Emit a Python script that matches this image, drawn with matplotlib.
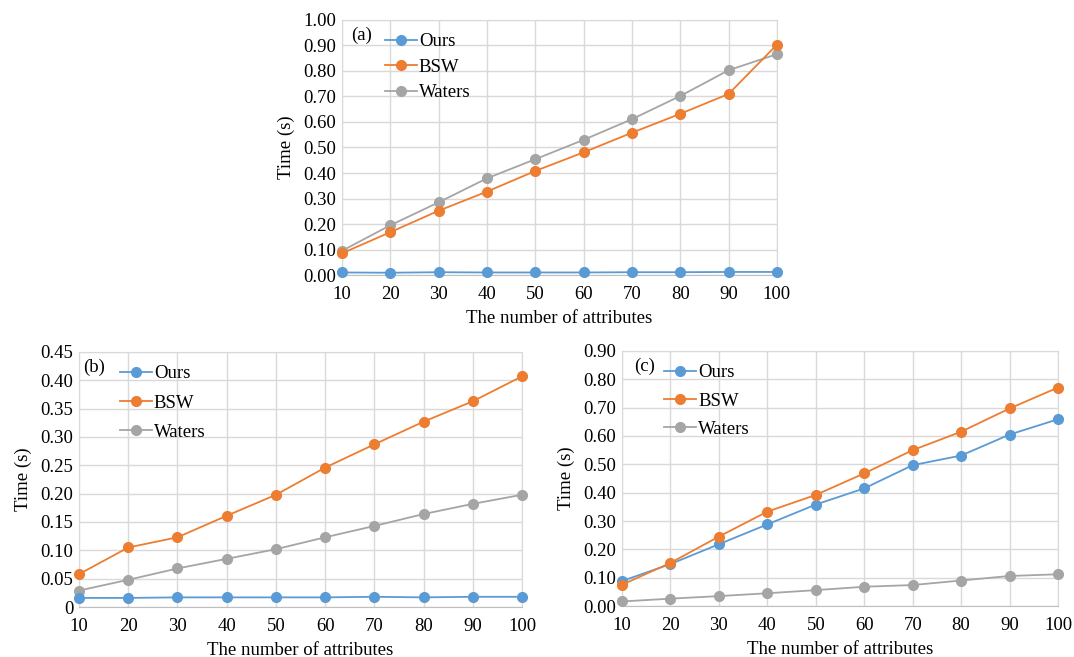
import numpy as np
import matplotlib.pyplot as plt

plt.rcParams['font.family'] = ['Liberation Serif', 'DejaVu Serif']

attrs = [10, 20, 30, 40, 50, 60, 70, 80, 90, 100]

# (a)
a_ours = [0.010, 0.009, 0.011, 0.010, 0.010, 0.010, 0.011, 0.011, 0.012, 0.012]
a_bsw = [0.085, 0.168, 0.252, 0.327, 0.408, 0.481, 0.558, 0.632, 0.710, 0.903]
a_waters = [0.095, 0.195, 0.285, 0.379, 0.454, 0.530, 0.611, 0.702, 0.803, 0.866]
a_yticks = [0.0, 0.1, 0.2, 0.3, 0.4, 0.5, 0.6, 0.7, 0.8, 0.9, 1.0]
a_ylabels = ["0.00", "0.10", "0.20", "0.30", "0.40", "0.50", "0.60", "0.70", "0.80", "0.90", "1.00"]

# (b)
b_ours = [0.016, 0.016, 0.017, 0.017, 0.017, 0.017, 0.018, 0.017, 0.018, 0.018]
b_bsw = [0.058, 0.105, 0.123, 0.161, 0.198, 0.246, 0.287, 0.327, 0.363, 0.407]
b_waters = [0.029, 0.048, 0.068, 0.085, 0.102, 0.123, 0.143, 0.164, 0.182, 0.198]
b_yticks = [0.0, 0.05, 0.10, 0.15, 0.20, 0.25, 0.30, 0.35, 0.40, 0.45]
b_ylabels = ["0", "0.05", "0.10", "0.15", "0.20", "0.25", "0.30", "0.35", "0.40", "0.45"]

# (c)
c_ours = [0.088, 0.148, 0.218, 0.288, 0.358, 0.415, 0.497, 0.531, 0.605, 0.659]
c_bsw = [0.075, 0.152, 0.245, 0.333, 0.392, 0.468, 0.550, 0.615, 0.697, 0.771]
c_waters = [0.016, 0.026, 0.035, 0.045, 0.056, 0.068, 0.074, 0.090, 0.106, 0.112]
c_yticks = [0.0, 0.1, 0.2, 0.3, 0.4, 0.5, 0.6, 0.7, 0.8, 0.9]
c_ylabels = ["0.00", "0.10", "0.20", "0.30", "0.40", "0.50", "0.60", "0.70", "0.80", "0.90"]

names = ["Ours", "BSW", "Waters"]
colors = ["#5B9BD5", "#ED7D31", "#A5A5A5"]
grid_c = "#D9D9D9"

fig = plt.figure(figsize=(10.74, 6.57), dpi=100)


def panel(rect, series, yticks, ylabels, tag, tag_x, leg_x, leg_sp, draw_order):
    ax = fig.add_axes(rect)
    lines = {}
    for i in draw_order:
        ln, = ax.plot(attrs, series[i], color=colors[i], lw=1.3, marker='o',
                      ms=7, clip_on=False, zorder=3)
        lines[i] = ln
    ax.set_xlim(10, 100)
    ax.set_ylim(yticks[0], yticks[-1])
    ax.set_xticks(attrs)
    ax.set_yticks(yticks)
    ax.set_yticklabels(ylabels)
    ax.grid(True, color=grid_c, lw=1.0)
    ax.set_axisbelow(True)
    for s in ax.spines.values():
        s.set_color(grid_c)
    ax.spines['bottom'].set_color("#BFBFBF")
    ax.tick_params(length=0, labelsize=13.5, pad=4)
    ax.tick_params(axis='x', pad=8)
    ax.set_xlabel("The number of attributes", fontsize=13.5, labelpad=5)
    ax.set_ylabel("Time (s)", fontsize=13.5, labelpad=6)
    ax.text(tag_x, 0.94, tag, transform=ax.transAxes, fontsize=13.5,
            va='center', ha='left')
    ax.legend([lines[i] for i in range(3)], names, loc='upper left',
              bbox_to_anchor=(leg_x, 1.0), frameon=False, fontsize=13.5,
              handlelength=1.7, handletextpad=0.1, labelspacing=leg_sp,
              borderaxespad=0.3)
    return ax


panel([0.3184, 0.5814, 0.4050, 0.3882], [a_ours, a_bsw, a_waters],
      a_yticks, a_ylabels, "(a)", 0.022, 0.069, 0.45, [0, 2, 1])
panel([0.0736, 0.0761, 0.4125, 0.3882], [b_ours, b_bsw, b_waters],
      b_yticks, b_ylabels, "(b)", 0.01, 0.063, 0.65, [2, 1, 0])
panel([0.5791, 0.0776, 0.4060, 0.3882], [c_ours, c_bsw, c_waters],
      c_yticks, c_ylabels, "(c)", 0.028, 0.067, 0.60, [2, 0, 1])

fig.savefig("out.png", dpi=100)
